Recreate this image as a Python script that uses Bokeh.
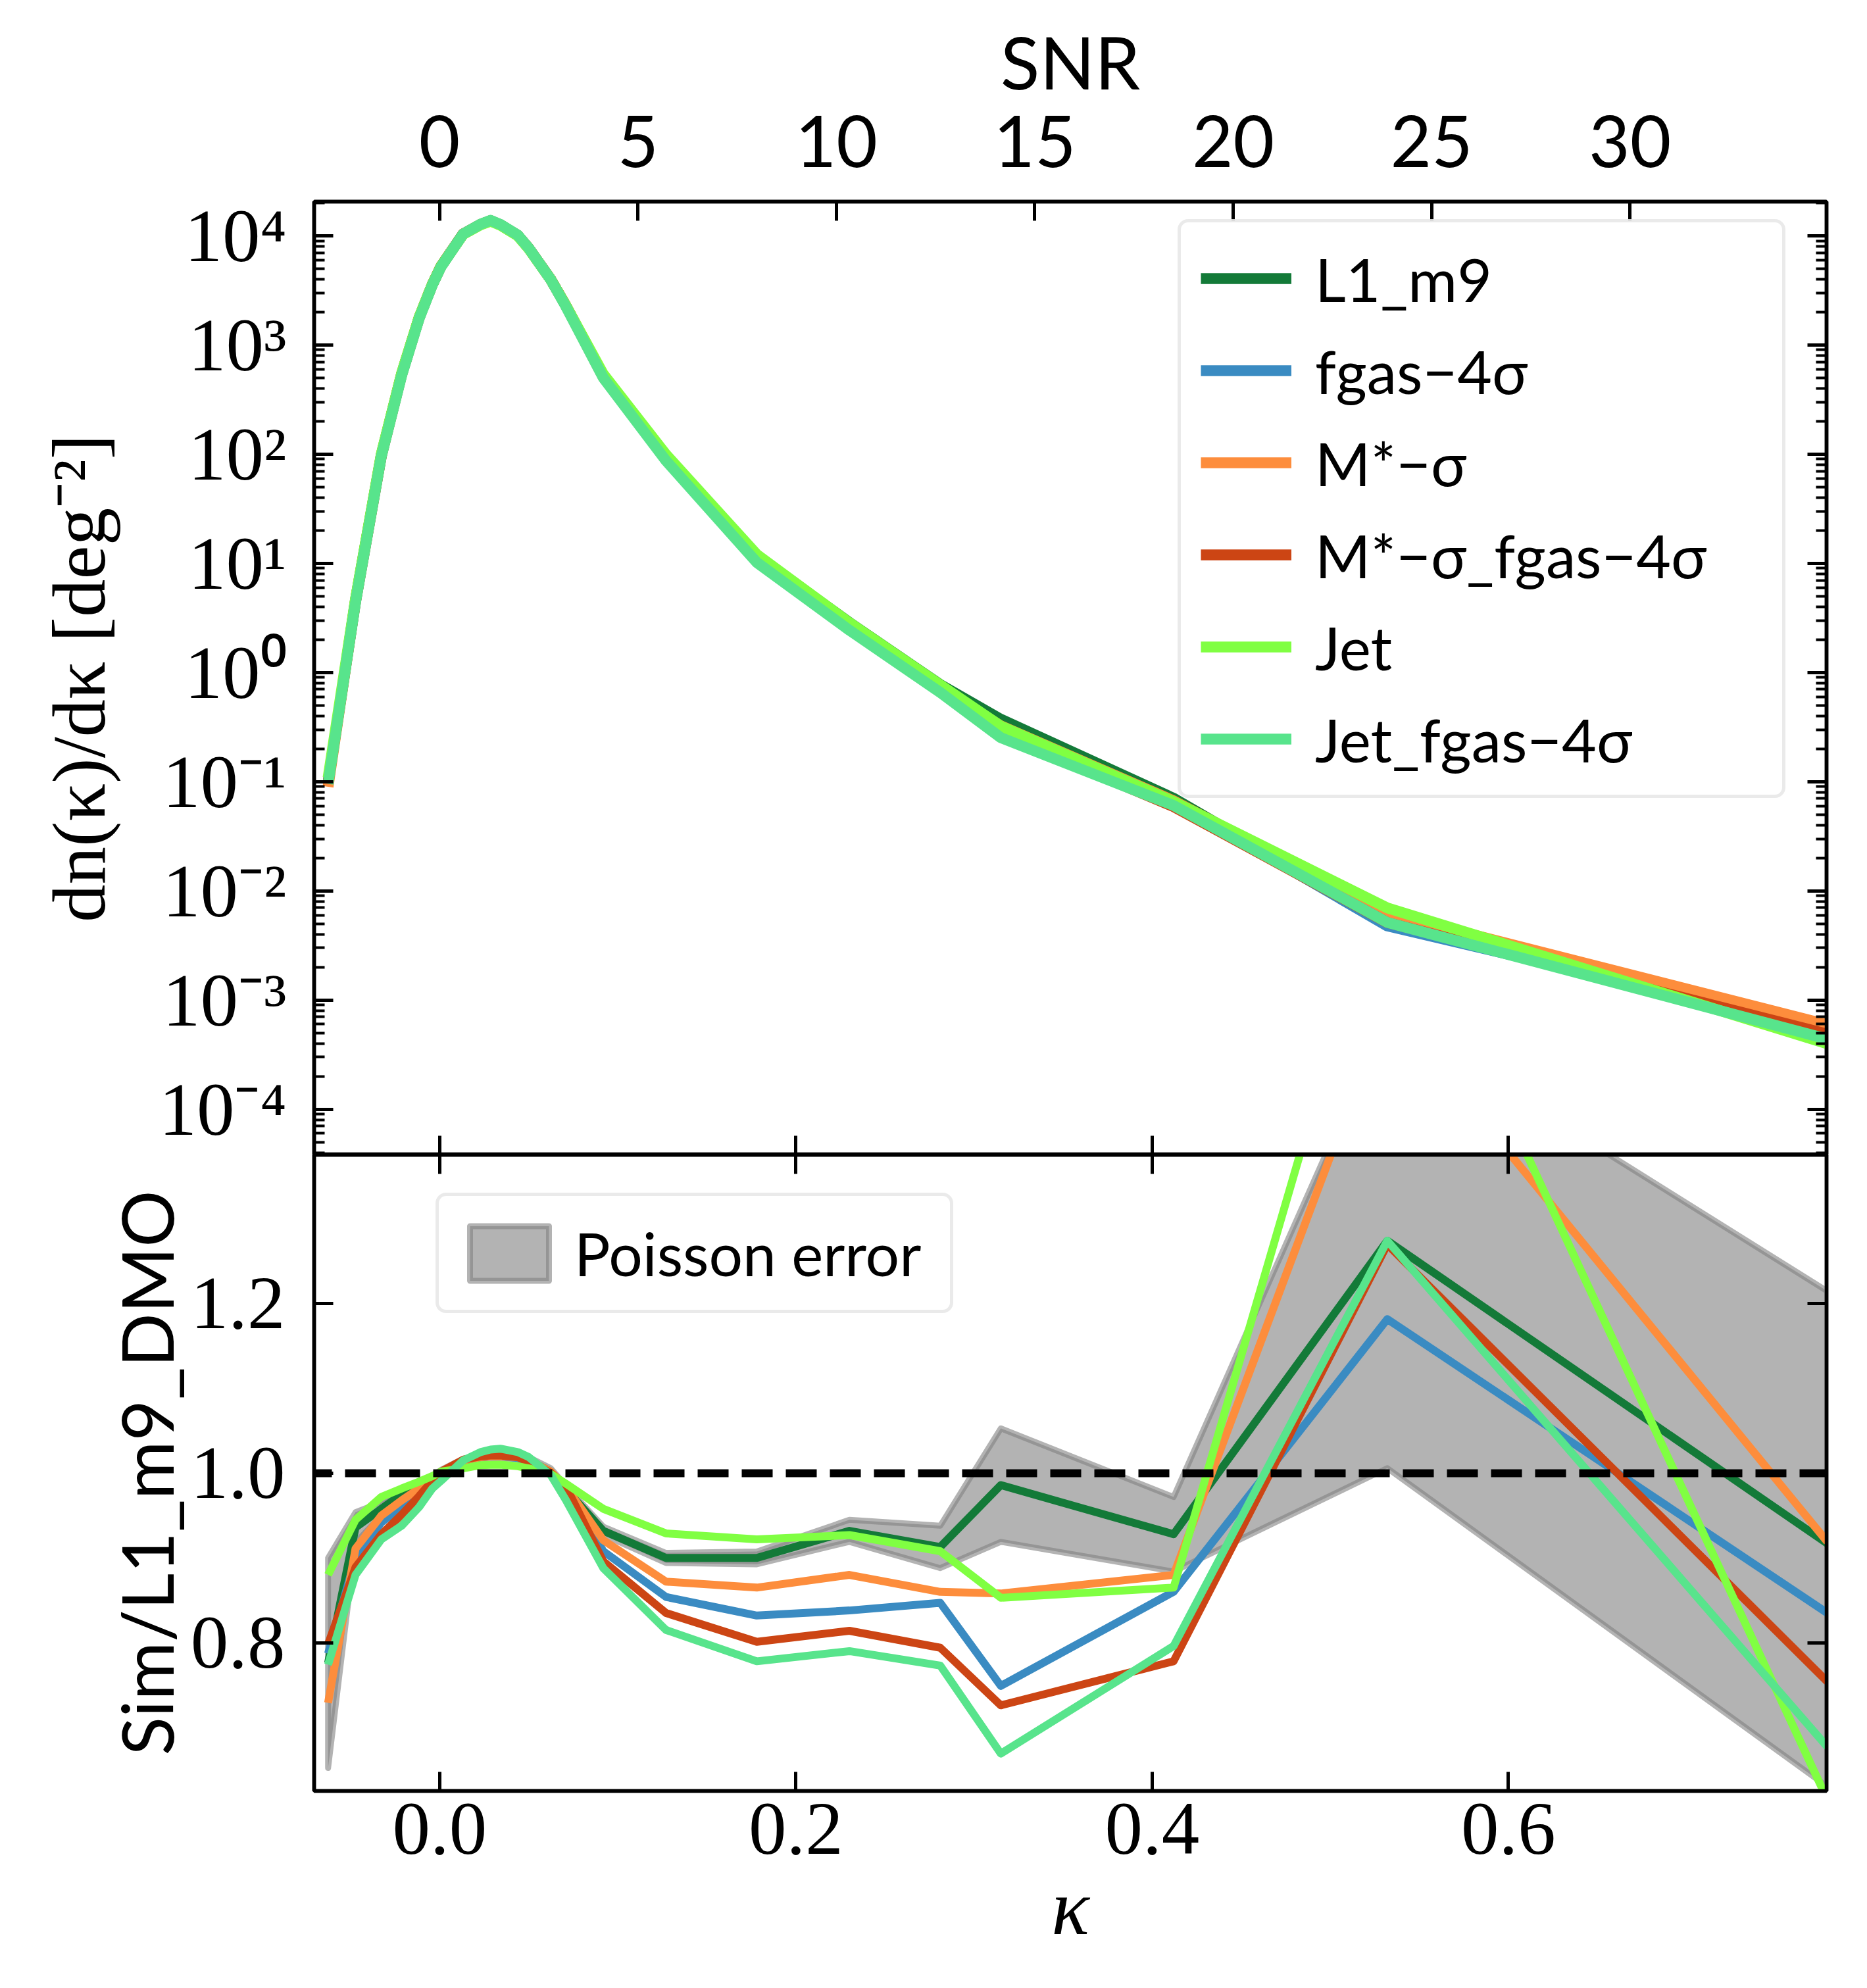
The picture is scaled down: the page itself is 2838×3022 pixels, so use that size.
from bokeh.plotting import figure
from bokeh.models import (Range1d, LinearAxis, LogAxis, FixedTicker, CustomJSTickFormatter,
                          PrintfTickFormatter, Legend, LegendItem, Span)
from bokeh.layouts import column
from bokeh.embed import file_html
from bokeh.resources import INLINE

# ---------------- data ----------------
kappa = [-0.0627, -0.0473, -0.0328, -0.0214, -0.0116, -0.0042, 0.0007, 0.0131, 0.0229, 0.0285,
         0.0340, 0.0438, 0.0500, 0.0623, 0.0709, 0.0918, 0.127, 0.178, 0.230, 0.281,
         0.315, 0.412, 0.532, 0.779]

series_names = ["L1_m9", "fgas\u22124\u03c3", "M*\u2212\u03c3", "M*\u2212\u03c3_fgas\u22124\u03c3",
                "Jet", "Jet_fgas\u22124\u03c3"]
series_colors = ["#137a38", "#3a8bc2", "#fd8d3c", "#cc4514", "#80ff42", "#58e48c"]

# peak counts dn/dkappa [deg^-2]
pdf_L1_m9 = [0.0957, 4.66, 99.2, 546, 1778, 3572, 5248, 10366, 12711, 13760, 12636, 10096, 7682,
             3989, 2268, 526.5, 96.2, 11.78, 2.873, 0.775, 0.3731, 0.0705, 0.005144, 0.000593]
pdf_fgas = [0.0970, 4.48, 97.5, 537, 1768, 3572, 5248, 10386, 12711, 13760, 12636, 10086, 7670,
            3981, 2275, 512.9, 91.3, 10.89, 2.584, 0.719, 0.2834, 0.0654, 0.004771, 0.000540]
pdf_Mstar = [0.0899, 4.54, 98.3, 541.9, 1778, 3572, 5251, 10386, 12711, 13760, 12636, 10096, 7682,
             3989, 2275, 520.3, 93.2, 11.32, 2.713, 0.730, 0.3247, 0.0669, 0.006272, 0.000595]
pdf_Mstar_fgas = [0.0984, 4.43, 96.0, 532.4, 1762, 3565, 5258, 10397, 12723, 13773, 12648, 10096, 7670,
                  3983, 2275, 506.2, 89.3, 10.49, 2.510, 0.674, 0.2747, 0.0591, 0.005126, 0.000488]
pdf_Jet = [0.1085, 4.71, 100.6, 549.7, 1793, 3585, 5258, 10291, 12594, 13625, 12513, 9990, 7611,
           3978, 2283, 541.2, 99.3, 12.07, 2.858, 0.771, 0.3228, 0.0657, 0.006982, 0.000398]
pdf_Jet_fgas = [0.0955, 4.375, 95.5, 524.8, 1738, 3532, 5200, 10399, 12794, 13868, 12735, 10162, 7709,
                3972, 2239, 501.2, 87.1, 10.19, 2.438, 0.656, 0.2529, 0.0605, 0.005140, 0.000439]

# ratio Sim / L1_m9_DMO
ratio_L1_m9 = [0.776, 0.936, 0.958, 0.975, 0.982, 0.993, 1.000, 1.013, 1.019, 1.020, 1.020, 1.019,
               1.015, 1.002, 0.981, 0.932, 0.900, 0.900, 0.932, 0.913, 0.986, 0.928, 1.2745, 0.917]
ratio_fgas = [0.787, 0.900, 0.942, 0.960, 0.976, 0.993, 1.000, 1.015, 1.019, 1.020, 1.020, 1.018,
              1.0135, 1.000, 0.984, 0.908, 0.854, 0.832, 0.838, 0.847, 0.749, 0.860, 1.182, 0.835]
ratio_Mstar = [0.729, 0.911, 0.950, 0.968, 0.982, 0.993, 1.0005, 1.015, 1.019, 1.020, 1.020, 1.019,
               1.015, 1.002, 0.984, 0.921, 0.872, 0.865, 0.880, 0.860, 0.858, 0.880, 1.554, 0.919]
ratio_Mstar_fgas = [0.798, 0.889, 0.928, 0.951, 0.973, 0.991, 1.002, 1.016, 1.020, 1.021, 1.021, 1.019,
                    1.0135, 1.0005, 0.984, 0.896, 0.835, 0.801, 0.814, 0.794, 0.726, 0.778, 1.270, 0.754]
ratio_Jet = [0.880, 0.945, 0.972, 0.982, 0.990, 0.9966, 1.002, 1.0057, 1.0096, 1.010, 1.0101, 1.0083,
             1.0057, 0.9992, 0.9876, 0.958, 0.929, 0.922, 0.927, 0.908, 0.853, 0.865, 1.730, 0.615]
ratio_Jet_fgas = [0.774, 0.880, 0.922, 0.938, 0.960, 0.982, 0.991, 1.015, 1.025, 1.028, 1.029, 1.025,
                  1.019, 0.998, 0.968, 0.888, 0.815, 0.778, 0.790, 0.773, 0.669, 0.796, 1.2745, 0.677]

# Poisson error band (upper / lower edge)
poisson_hi = [0.900, 0.954, 0.966, 0.981, 0.987, 0.997, 1.004, 1.017, 1.023, 1.024, 1.024, 1.023,
              1.019, 1.006, 0.985, 0.937, 0.906, 0.9075, 0.945, 0.938, 1.053, 0.972, 1.540, 1.215]
poisson_lo = [0.652, 0.918, 0.950, 0.969, 0.977, 0.989, 0.996, 1.009, 1.015, 1.016, 1.016, 1.015,
              1.011, 0.998, 0.977, 0.927, 0.894, 0.8925, 0.919, 0.888, 0.919, 0.884, 1.006, 0.630]

pdfs = [pdf_L1_m9, pdf_fgas, pdf_Mstar, pdf_Mstar_fgas, pdf_Jet, pdf_Jet_fgas]
ratios = [ratio_L1_m9, ratio_fgas, ratio_Mstar, ratio_Mstar_fgas, ratio_Jet, ratio_Jet_fgas]

kappa_ticks = [0.0, 0.2, 0.4, 0.6]
snr_ticks = [0, 5, 10, 15, 20, 25, 30]
ratio_ticks = [0.8, 1.0, 1.2]
log_major = [10.0 ** e for e in range(-4, 5)]
log_minor = [m * 10.0 ** e for e in range(-5, 5) for m in range(2, 10)]

# ---------------- styling ----------------
SERIF = "Liberation Serif"
SANS = "Lato"
W = 2838
KMIN, KMAX = -0.07054, 0.7786
SPINE = 5.5

blank_fmt = CustomJSTickFormatter(code="return '';")


def style_axis(ax, show_labels=True, font=SERIF, size="115px", standoff=10):
    ax.axis_line_width = SPINE
    ax.axis_line_color = "black"
    ax.major_tick_in = 29
    ax.major_tick_out = 0
    ax.minor_tick_in = 16
    ax.minor_tick_out = 0
    ax.major_tick_line_width = 5
    ax.minor_tick_line_width = 4
    ax.major_tick_line_color = "black"
    ax.minor_tick_line_color = "black"
    ax.major_label_text_color = "black"
    ax.axis_label_text_color = "black"
    ax.axis_label_text_font_style = "normal"
    ax.major_label_text_font = font
    if show_labels:
        ax.major_label_text_font_size = size
        ax.major_label_standoff = standoff
    else:
        ax.formatter = blank_fmt
        ax.major_label_text_font_size = "1px"
        ax.major_label_standoff = 0


def rounded(legend, radius):
    if "border_radius" in Legend.properties():
        legend.border_radius = radius


sup_fmt = CustomJSTickFormatter(code="""
const e = Math.round(Math.log10(tick));
const m = {"-":"\\u207b","0":"\\u2070","1":"\\u00b9","2":"\\u00b2","3":"\\u00b3","4":"\\u2074",
           "5":"\\u2075","6":"\\u2076","7":"\\u2077","8":"\\u2078","9":"\\u2079"};
return "10" + String(e).split("").map(c => m[c]).join("");
""")

# ---------------- top panel ----------------
xr = Range1d(KMIN, KMAX)
top = figure(width=W, height=1755, output_backend="svg", toolbar_location=None,
             x_range=xr, y_range=Range1d(10 ** -4.418, 10 ** 4.313), y_axis_type="log",
             min_border_left=477, min_border_right=62, min_border_top=306, min_border_bottom=0,
             background_fill_color="white", border_fill_color="white")
top.xgrid.visible = False
top.ygrid.visible = False
top.outline_line_color = "black"
top.outline_line_width = SPINE
top.extra_x_ranges = {"snr": Range1d(-3.160, 34.953)}

log_ticker = FixedTicker(ticks=log_major, minor_ticks=log_minor)
yl = top.yaxis[0]
yl.ticker = log_ticker
yl.formatter = sup_fmt
style_axis(yl, True, SERIF, "115px", 42)
yl.axis_label = "dn(\u03ba)/d\u03ba [deg\u207b\u00b2]"
yl.axis_label_text_font = SERIF
yl.axis_label_text_font_size = "115px"
yl.axis_label_standoff = 54

yr = LogAxis(ticker=log_ticker)
style_axis(yr, False)
top.add_layout(yr, "right")

xb = top.xaxis[0]
xb.ticker = FixedTicker(ticks=kappa_ticks)
style_axis(xb, False)

xsnr = LinearAxis(x_range_name="snr", ticker=FixedTicker(ticks=snr_ticks))
style_axis(xsnr, True, SANS, "108px", 53)
xsnr.axis_label = "SNR"
xsnr.axis_label_text_font = SANS
xsnr.axis_label_text_font_size = "110px"
xsnr.axis_label_standoff = 14
top.add_layout(xsnr, "above")

top_items = []
for name, col, pdf in zip(series_names, series_colors, pdfs):
    r = top.line(kappa, pdf, line_color=col, line_width=16.5, line_join="round")
    top_items.append(LegendItem(label=name, renderers=[r]))

leg = Legend(items=top_items, location=(1313, 542), label_text_font=SANS,
             label_text_font_size="91px", label_text_color="black",
             glyph_width=138, glyph_height=110, label_height=110, label_width=680,
             label_standoff=36, spacing=30, padding=30, margin=0,
             border_line_color="#d5d5d5", border_line_width=5,
             background_fill_color="white", background_fill_alpha=0.8)
rounded(leg, 16)
top.add_layout(leg)

# ---------------- bottom panel ----------------
bot = figure(width=W, height=1265, output_backend="svg", toolbar_location=None,
             x_range=xr, y_range=Range1d(0.6249, 1.3759),
             min_border_left=477, min_border_right=62, min_border_top=0, min_border_bottom=298,
             background_fill_color="white", border_fill_color="white")
bot.xgrid.visible = False
bot.ygrid.visible = False
bot.outline_line_color = "black"
bot.outline_line_width = SPINE

band = bot.patch(kappa + kappa[::-1], poisson_hi + poisson_lo[::-1],
                 fill_color="#808080", fill_alpha=0.6, line_color="#808080",
                 line_alpha=0.6, line_width=9, line_join="round")

for col, rat in zip(series_colors, ratios):
    bot.line(kappa, rat, line_color=col, line_width=12, line_join="round")

bot.add_layout(Span(location=1.0, dimension="width", line_color="black", line_width=12,
                    line_dash="47 20", line_dash_offset=20))

bl = bot.yaxis[0]
bl.ticker = FixedTicker(ticks=ratio_ticks)
bl.formatter = PrintfTickFormatter(format="%.1f")
style_axis(bl, True, SERIF, "115px", 44)
bl.axis_label = "Sim/L1_m9_DMO"
bl.axis_label_text_font = SANS
bl.axis_label_text_font_size = "108px"
bl.axis_label_standoff = 0

br = LinearAxis(ticker=FixedTicker(ticks=ratio_ticks))
style_axis(br, False)
bot.add_layout(br, "right")

bx = bot.xaxis[0]
bx.ticker = FixedTicker(ticks=kappa_ticks)
bx.formatter = PrintfTickFormatter(format="%.1f")
style_axis(bx, True, SERIF, "115px", 20)
bx.axis_label = "\u03ba"
bx.axis_label_text_font = SERIF
bx.axis_label_text_font_size = "120px"
bx.axis_label_text_font_style = "italic"
bx.axis_label_standoff = 12

bt = LinearAxis(ticker=FixedTicker(ticks=kappa_ticks))
style_axis(bt, False)
bot.add_layout(bt, "above")

leg2 = Legend(items=[LegendItem(label="Poisson error", renderers=[band])], location=(185, 726),
              label_text_font=SANS, label_text_font_size="91px", label_text_color="black",
              glyph_width=150, glyph_height=104, label_height=104, label_width=539,
              label_standoff=24, padding=32, margin=0,
              border_line_color="#d5d5d5", border_line_width=5,
              background_fill_color="white", background_fill_alpha=0.8)
rounded(leg2, 16)
bot.add_layout(leg2)

layout = column(top, bot, spacing=0)
open("out.html", "w").write(file_html(layout, INLINE))
